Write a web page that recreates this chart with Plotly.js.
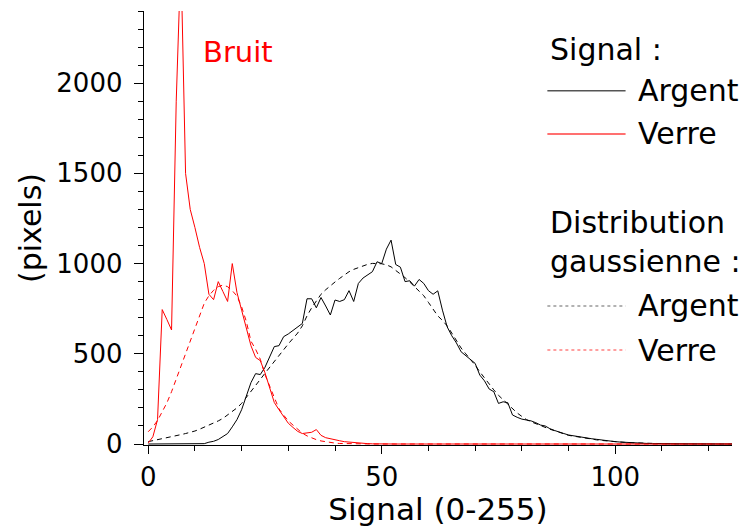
<!DOCTYPE html>
<html>
<head>
<meta charset="utf-8">
<script src="https://cdn.plot.ly/plotly-3.0.1.min.js"></script>
<style>
html,body{margin:0;padding:0;background:#fff;}
#chart{width:744px;height:528px;}
</style>
</head>
<body>
<div id="chart"></div>
<script>
// Signal level bins (0-255 scale, shown 0-125)
const signalBins = [
  0,1,2,3,4,5,6,7,8,9,
  10,11,12,13,14,15,16,17,18,19,
  20,21,22,23,24,25,26,27,28,29,
  30,31,32,33,34,35,36,37,38,39,
  40,41,42,43,44,45,46,47,48,49,
  50,51,52,53,54,55,56,57,58,59,
  60,61,62,63,64,65,66,67,68,69,
  70,71,72,73,74,75,76,77,78,79,
  80,81,82,83,84,85,86,87,88,89,
  90,91,92,93,94,95,96,97,98,99,
  100,101,102,103,104,105,106,107,108,109,
  110,111,112,113,114,115,116,117,118,119,
  120,121,122,123,124,125
];

// Signal : Argent (measured histogram)
const signalArgent = [
  0,0,0,0,0,0,0,0,0,0,
  0,0,2,10,15,25,40,58,95,135,
  190,265,340,390,385,425,485,540,545,595,
  610,630,648,668,805,805,755,812,765,715,
  798,790,800,850,790,890,920,940,955,1010,
  1000,1080,1130,995,980,900,905,875,912,890,
  850,830,849,742,650,600,560,511,490,465,
  447,382,350,305,290,225,234,229,161,148,
  138,133,128,118,105,100,85,75,65,58,
  50,45,42,37,32,29,26,22,19,16,
  13,11,9,7,5,4,4,3,2,2,
  1,0,0,0,0,0,0,0,0,0,
  0,0,0,0,0,0
];

// Signal : Verre (measured histogram)
const signalVerre = [
  5,40,135,745,690,632,1900,2700,1500,1300,
  1200,1090,1000,830,800,900,845,790,1000,840,
  742,640,545,480,462,395,305,230,190,150,
  115,92,70,58,60,65,80,48,35,28,
  22,18,13,10,7,5,3,2,1,0,
  0,0,0,0,0,0,0,0,0,0,
  0,0,0,0,0,0,0,0,0,0,
  0,0,0,0,0,0,0,0,0,0,
  0,0,0,0,0,0,0,0,0,0,
  0,0,0,0,0,0,0,0,0,0,
  0,0,0,0,0,0,0,0,0,0,
  0,0,0,0,0,0,0,0,0,0,
  0,0,0,0,0,0
];

// Distribution gaussienne : Argent
const gaussArgent = [
  13,18,24,30,35,40,45,52,58,64,
  72,82,93,103,113,128,142,160,180,200,
  225,260,295,327,358,392,425,460,492,525,
  555,585,615,655,710,755,795,830,855,878,
  898,918,937,955,968,978,988,996,1001,1002,
  999,993,982,962,944,922,898,873,848,822,
  785,745,710,685,655,615,575,532,500,470,
  437,400,365,333,300,270,245,218,192,172,
  153,135,123,112,100,90,82,74,65,56,
  48,44,39,34,30,26,23,20,17,15,
  13,11,9,7,6,5,4,3,2,2,
  1,0,0,0,0,0,0,0,0,0,
  0,0,0,0,0,0
];

// Distribution gaussienne : Verre
const gaussVerre = [
  68,95,130,175,228,290,360,440,510,575,
  650,715,780,822,852,872,881,872,850,820,
  760,680,570,525,470,385,325,260,195,160,
  128,105,80,60,45,33,24,17,12,8,
  5,3,2,1,0,0,0,0,0,0,
  0,0,0,0,0,0,0,0,0,0,
  0,0,0,0,0,0,0,0,0,0,
  0,0,0,0,0,0,0,0,0,0,
  0,0,0,0,0,0,0,0,0,0,
  0,0,0,0,0,0,0,0,0,0,
  0,0,0,0,0,0,0,0,0,0,
  0,0,0,0,0,0,0,0,0,0,
  0,0,0,0,0,0
];

const xTickVals = [0, 50, 100];
const yTickVals = [0, 500, 1000, 1500, 2000];
const seriesNames = ['Argent', 'Verre'];
const groupTitles = ['Signal :', 'Distribution', 'gaussienne :'];
const noiseLabel = 'Bruit';
const xTitle = 'Signal (0-255)';
const yTitle = '(pixels)';

const BLACK = '#000000';
const RED = '#ff0000';
const FONT = 'DejaVu Sans, Liberation Sans, Arial, sans-serif';

const traces = [
  {x: signalBins, y: gaussArgent, mode: 'lines', line: {color: BLACK, width: 1, dash: '5px,4px'}, showlegend: false, hoverinfo: 'skip'},
  {x: signalBins, y: gaussVerre, mode: 'lines', line: {color: RED, width: 1, dash: '5px,4px'}, showlegend: false, hoverinfo: 'skip'},
  {x: signalBins, y: signalArgent, mode: 'lines', line: {color: BLACK, width: 1}, showlegend: false, hoverinfo: 'skip'},
  {x: signalBins, y: signalVerre, mode: 'lines', line: {color: RED, width: 1}, showlegend: false, hoverinfo: 'skip'}
];

// legend drawn manually to match the original layout
const legX0 = 0.686, legX1 = 0.819, legTextX = 0.836, groupX = 0.687;
const annFont = {family: FONT, size: 30, color: BLACK};
const annotations = [
  {text: noiseLabel, xref: 'paper', yref: 'paper', x: 0.160, y: 0.905, xanchor: 'center', yanchor: 'middle', showarrow: false, font: {family: FONT, size: 29, color: RED}},
  {text: groupTitles[0], xref: 'paper', yref: 'paper', x: groupX, y: 0.912, xanchor: 'left', yanchor: 'middle', showarrow: false, font: annFont},
  {text: seriesNames[0], xref: 'paper', yref: 'paper', x: legTextX, y: 0.816, xanchor: 'left', yanchor: 'middle', showarrow: false, font: annFont},
  {text: seriesNames[1], xref: 'paper', yref: 'paper', x: legTextX, y: 0.717, xanchor: 'left', yanchor: 'middle', showarrow: false, font: annFont},
  {text: groupTitles[1], xref: 'paper', yref: 'paper', x: groupX, y: 0.513, xanchor: 'left', yanchor: 'middle', showarrow: false, font: annFont},
  {text: groupTitles[2], xref: 'paper', yref: 'paper', x: groupX, y: 0.422, xanchor: 'left', yanchor: 'middle', showarrow: false, font: annFont},
  {text: seriesNames[0], xref: 'paper', yref: 'paper', x: legTextX, y: 0.321, xanchor: 'left', yanchor: 'middle', showarrow: false, font: annFont},
  {text: seriesNames[1], xref: 'paper', yref: 'paper', x: legTextX, y: 0.217, xanchor: 'left', yanchor: 'middle', showarrow: false, font: annFont}
];
const shapes = [
  {type: 'line', xref: 'paper', yref: 'paper', x0: legX0, x1: legX1, y0: 0.8164, y1: 0.8164, line: {color: '#555555', width: 1.5}},
  {type: 'line', xref: 'paper', yref: 'paper', x0: legX0, x1: legX1, y0: 0.7166, y1: 0.7166, line: {color: '#ff4040', width: 1.5}},
  {type: 'line', xref: 'paper', yref: 'paper', x0: legX0, x1: legX1, y0: 0.3203, y1: 0.3203, line: {color: '#666666', width: 1.2, dash: '3px,3px'}},
  {type: 'line', xref: 'paper', yref: 'paper', x0: legX0, x1: legX1, y0: 0.2189, y1: 0.2189, line: {color: '#ff4040', width: 1.2, dash: '3px,3px'}}
];

const layout = {
  width: 744, height: 528,
  margin: {l: 144, r: 12, t: 11, b: 83, pad: 0},
  paper_bgcolor: '#ffffff', plot_bgcolor: '#ffffff',
  font: {family: FONT, color: BLACK},
  showlegend: false,
  xaxis: {
    range: [-0.9, 125], tickvals: xTickVals, ticks: 'outside', ticklen: 8, tickwidth: 1, tickcolor: BLACK,
    showline: true, linecolor: BLACK, linewidth: 1.3, showgrid: false, zeroline: false,
    tickfont: {family: FONT, size: 26, color: BLACK},
    minor: {dtick: 10, tick0: 0, ticks: 'outside', ticklen: 5, tickwidth: 1, tickcolor: BLACK, showgrid: false},
    title: {text: xTitle, font: {family: FONT, size: 31, color: BLACK}, standoff: 6}
  },
  yaxis: {
    range: [-5.5, 2400], tickvals: yTickVals, ticks: 'outside', ticklen: 9, tickwidth: 1, tickcolor: BLACK,
    showline: true, linecolor: BLACK, linewidth: 1.3, showgrid: false, zeroline: false,
    tickfont: {family: FONT, size: 26, color: BLACK}, ticklabelstandoff: 6,
    minor: {dtick: 100, tick0: 0, ticks: 'outside', ticklen: 5, tickwidth: 1, tickcolor: BLACK, showgrid: false},
    title: {text: yTitle, font: {family: FONT, size: 30, color: BLACK}, standoff: 5}
  },
  annotations: annotations,
  shapes: shapes
};

Plotly.newPlot('chart', traces, layout, {staticPlot: true, displayModeBar: false});
</script>
</body>
</html>
